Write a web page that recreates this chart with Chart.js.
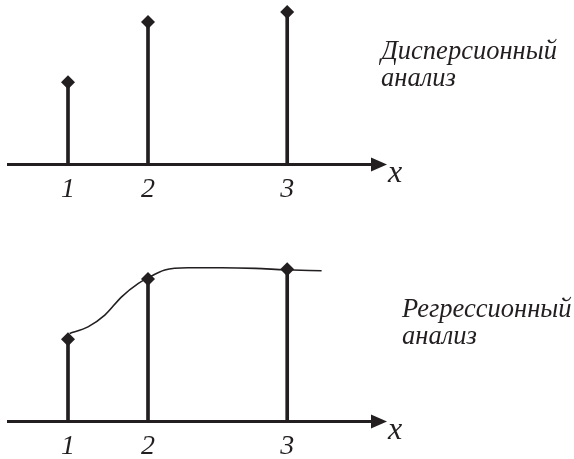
<!DOCTYPE html>
<html>
<head>
<meta charset="utf-8">
<script src="https://cdn.jsdelivr.net/npm/chart.js@4"></script>
<style>
  body { margin: 0; background: #fff; overflow: hidden; }
  #wrap { position: relative; width: 574px; height: 459px; overflow: hidden; }
  canvas { position: absolute; left: 0; }
  .lbl { position: absolute; font-family: "Liberation Serif", serif; font-style: italic; color: #231f20; white-space: nowrap; }
  .side { font-size: 26.5px; line-height: 27px; }
  .ax { font-size: 32px; line-height: 32px; }
</style>
</head>
<body>
<div id="wrap">
  <canvas id="top" width="574" height="230" style="top:0"></canvas>
  <canvas id="bottom" width="574" height="250" style="top:230px"></canvas>
  <div class="lbl side" style="left:381px; top:37px">Дисперсионный<br>анализ</div>
  <div class="lbl side" style="left:402px; top:295px">Регрессионный<br>анализ</div>
  <div class="lbl ax" style="left:388px; top:155px">x</div>
  <div class="lbl ax" style="left:388px; top:412px">x</div>
</div>
<script>
// positions of the three groups along the axis (uneven spacing, as drawn)
const xPositions = [1, 2, 3.74];
const tickLabels = ["1", "2", "3"];
// heights of the stems (same in both panels)
const stemValues = [0.547, 0.947, 1.013];
// regression curve
const curveX = [1.02, 1.25, 1.46, 1.67, 1.88, 2.0, 2.21, 2.5, 2.92, 3.34, 3.71, 4.17];
const curveY = [0.585, 0.629, 0.707, 0.829, 0.918, 0.955, 1.007, 1.022, 1.022, 1.018, 1.009, 1.002];

const ink = "#231f20";

const arrowPlugin = {
  id: "arrow",
  afterDraw(chart) {
    const { ctx, chartArea } = chart;
    const y = chartArea.bottom;
    ctx.save();
    ctx.fillStyle = ink;
    ctx.beginPath();
    ctx.moveTo(chartArea.right - 1, y - 7);
    ctx.lineTo(chartArea.right + 15, y);
    ctx.lineTo(chartArea.right - 1, y + 7);
    ctx.closePath();
    ctx.fill();
    ctx.restore();
  },
};

function makeChart(id, yMax, padBottom, withCurve) {
  const datasets = [
    {
      type: "bar",
      data: xPositions.map((x, i) => ({ x: x, y: stemValues[i] })),
      backgroundColor: ink,
      barThickness: 3,
      order: 3,
    },
    {
      type: "line",
      data: xPositions.map((x, i) => ({ x: x, y: stemValues[i] })),
      showLine: false,
      pointStyle: "rectRot",
      pointRadius: 7,
      pointBackgroundColor: ink,
      pointBorderWidth: 0,
      clip: false,
      order: 1,
    },
  ];
  if (withCurve) {
    datasets.push({
      type: "line",
      data: curveX.map((x, i) => ({ x: x, y: curveY[i] })),
      borderColor: ink,
      borderWidth: 1.6,
      pointRadius: 0,
      cubicInterpolationMode: "monotone",
      fill: false,
      clip: false,
      order: 2,
    });
  }
  return new Chart(document.getElementById(id), {
    type: "bar",
    data: { datasets: datasets },
    plugins: [arrowPlugin],
    options: {
      responsive: false,
      animation: false,
      layout: { padding: { left: 8, right: 202, top: 16, bottom: padBottom } },
      plugins: { legend: { display: false }, tooltip: { enabled: false } },
      scales: {
        x: {
          type: "linear",
          min: 0.25,
          max: 4.8,
          offset: false,
          grid: { display: false, drawTicks: false },
          border: { display: true, width: 3, color: ink },
          afterBuildTicks: (scale) => {
            scale.ticks = xPositions.map((v) => ({ value: v }));
          },
          ticks: {
            padding: 8,
            color: ink,
            font: { family: "Liberation Serif", style: "italic", size: 28 },
            callback: (v) => tickLabels[xPositions.indexOf(v)],
          },
        },
        y: { display: false, min: 0, max: yMax },
      },
    },
  });
}

// top: baseline at y=164, bottom: baseline at y=421 (150 px per unit)
makeChart("top", 0.987, 16, false);
makeChart("bottom", 1.167, 9, true);
</script>
</body>
</html>
